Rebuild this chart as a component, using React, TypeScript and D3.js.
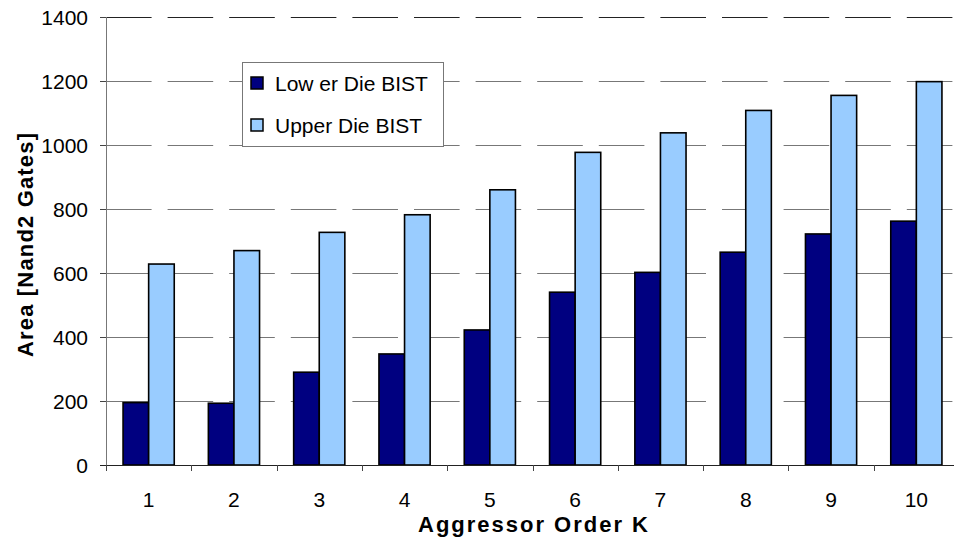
import * as d3 from "d3";
import React, { RefObject, useEffect, useRef } from "react";

const categories = ["1", "2", "3", "4", "5", "6", "7", "8", "9", "10"];
const seriesNames = ["Low er Die BIST", "Upper Die BIST"];
const lowerDie = [195, 193, 290, 347, 422, 540, 602, 665, 722, 762];
const upperDie = [628, 670, 727, 782, 860, 977, 1038, 1108, 1155, 1198];
const yTicks = [0, 200, 400, 600, 800, 1000, 1200, 1400];
const colors = ["#000080", "#99CCFF"];

const width = 954;
const height = 541;

const App = () => {
  const d3Ref: RefObject<HTMLDivElement> = useRef(null);

  const drawChart = () => {
    d3.select(d3Ref.current).selectAll("*").remove();
    const svg = d3
      .select(d3Ref.current)
      .append("svg")
      .attr("width", width)
      .attr("height", height)
      .style("position", "absolute")
      .style("left", "0px")
      .style("top", "0px")
      .style("font-family", "'Liberation Sans', Arial, sans-serif");

    svg.append("rect").attr("width", width).attr("height", height).attr("fill", "#fff");

    const left = 106;
    const right = 959;
    const top = 17;
    const bottom = 465;

    const x0 = d3.scaleBand().domain(categories).range([left, right]).padding(0);
    const x1 = d3
      .scaleBand()
      .domain(seriesNames)
      .range([x0.bandwidth() * 0.2, x0.bandwidth() * 0.8])
      .padding(0);
    const y = d3.scaleLinear().domain([0, 1400]).range([bottom, top]);

    // dashed gridlines
    svg
      .append("g")
      .selectAll("line")
      .data(yTicks.filter((d) => d > 0))
      .enter()
      .append("line")
      .attr("x1", left)
      .attr("x2", width)
      .attr("y1", (d) => Math.round(y(d)) + 0.5)
      .attr("y2", (d) => Math.round(y(d)) + 0.5)
      .attr("stroke", (d) => (d === 1400 ? "#222" : "#777"))
      .attr("stroke-width", 1)
      .attr("stroke-dasharray", "45.6,16");

    // y axis
    const yAxis = svg.append("g");
    yAxis
      .append("line")
      .attr("x1", left + 0.5)
      .attr("x2", left + 0.5)
      .attr("y1", top)
      .attr("y2", bottom)
      .attr("stroke", "#777");
    yAxis
      .selectAll("line.tick")
      .data(yTicks)
      .enter()
      .append("line")
      .attr("class", "tick")
      .attr("x1", left - 6)
      .attr("x2", left)
      .attr("y1", (d) => Math.round(y(d)) + 0.5)
      .attr("y2", (d) => Math.round(y(d)) + 0.5)
      .attr("stroke", "#444");
    yAxis
      .selectAll("text")
      .data(yTicks)
      .enter()
      .append("text")
      .attr("x", 88)
      .attr("y", (d) => y(d) + 7.5)
      .attr("text-anchor", "end")
      .attr("font-size", 21)
      .attr("fill", "#000")
      .text((d) => String(d));

    // bars
    const data = categories.map((c, i) => ({ c, vals: [lowerDie[i], upperDie[i]] }));
    const groups = svg
      .append("g")
      .selectAll("g")
      .data(data)
      .enter()
      .append("g")
      .attr("transform", (d) => `translate(${x0(d.c)},0)`);
    groups
      .selectAll("rect")
      .data((d) => d.vals.map((v, j) => ({ name: seriesNames[j], v, j })))
      .enter()
      .append("rect")
      .attr("x", (d) => x1(d.name) as number)
      .attr("y", (d) => y(d.v))
      .attr("width", x1.bandwidth())
      .attr("height", (d) => bottom - y(d.v))
      .attr("fill", (d) => colors[d.j])
      .attr("stroke", "#000")
      .attr("stroke-width", 1.6);

    // x axis
    const xAxis = svg.append("g");
    xAxis
      .append("line")
      .attr("x1", left - 6)
      .attr("x2", width)
      .attr("y1", bottom + 0.5)
      .attr("y2", bottom + 0.5)
      .attr("stroke", "#222")
      .attr("stroke-width", 1.2);
    xAxis
      .selectAll("line.tick")
      .data(categories)
      .enter()
      .append("line")
      .attr("class", "tick")
      .attr("x1", (d) => Math.round(x0(d) as number) + 0.5)
      .attr("x2", (d) => Math.round(x0(d) as number) + 0.5)
      .attr("y1", bottom)
      .attr("y2", bottom + 6)
      .attr("stroke", "#444");
    xAxis
      .selectAll("text")
      .data(categories)
      .enter()
      .append("text")
      .attr("x", (d) => (x0(d) as number) + x0.bandwidth() / 2)
      .attr("y", 506.5)
      .attr("text-anchor", "middle")
      .attr("font-size", 21)
      .attr("fill", "#000")
      .text((d) => d);

    // axis titles
    svg
      .append("text")
      .attr("x", 533)
      .attr("y", 531.5)
      .attr("text-anchor", "middle")
      .attr("font-size", 22)
      .attr("font-weight", "bold")
      .attr("textLength", 230)
      .attr("lengthAdjust", "spacing")
      .text("Aggressor Order K");
    svg
      .append("text")
      .attr("transform", "translate(33,245) rotate(-90)")
      .attr("text-anchor", "middle")
      .attr("font-size", 22)
      .attr("font-weight", "bold")
      .attr("textLength", 224)
      .attr("lengthAdjust", "spacing")
      .text("Area [Nand2 Gates]");

    // legend
    const legend = svg.append("g");
    legend
      .append("rect")
      .attr("x", 242.5)
      .attr("y", 62.5)
      .attr("width", 201)
      .attr("height", 84)
      .attr("fill", "#fff")
      .attr("stroke", "#777");
    const items = legend
      .selectAll("g")
      .data(seriesNames)
      .enter()
      .append("g")
      .attr("transform", (d, i) => `translate(0, ${83 + i * 42})`);
    items
      .append("rect")
      .attr("x", 251)
      .attr("y", -6)
      .attr("width", 12)
      .attr("height", 12)
      .attr("fill", (d, i) => colors[i])
      .attr("stroke", "#000")
      .attr("stroke-width", 1.5);
    items
      .append("text")
      .attr("x", 275)
      .attr("y", 7.5)
      .attr("font-size", 21)
      .attr("fill", "#000")
      .text((d) => d);
  };

  useEffect(() => {
    drawChart();
  }, [d3Ref]);

  return (
    <>
      <div ref={d3Ref} />
    </>
  );
};

export default App;
